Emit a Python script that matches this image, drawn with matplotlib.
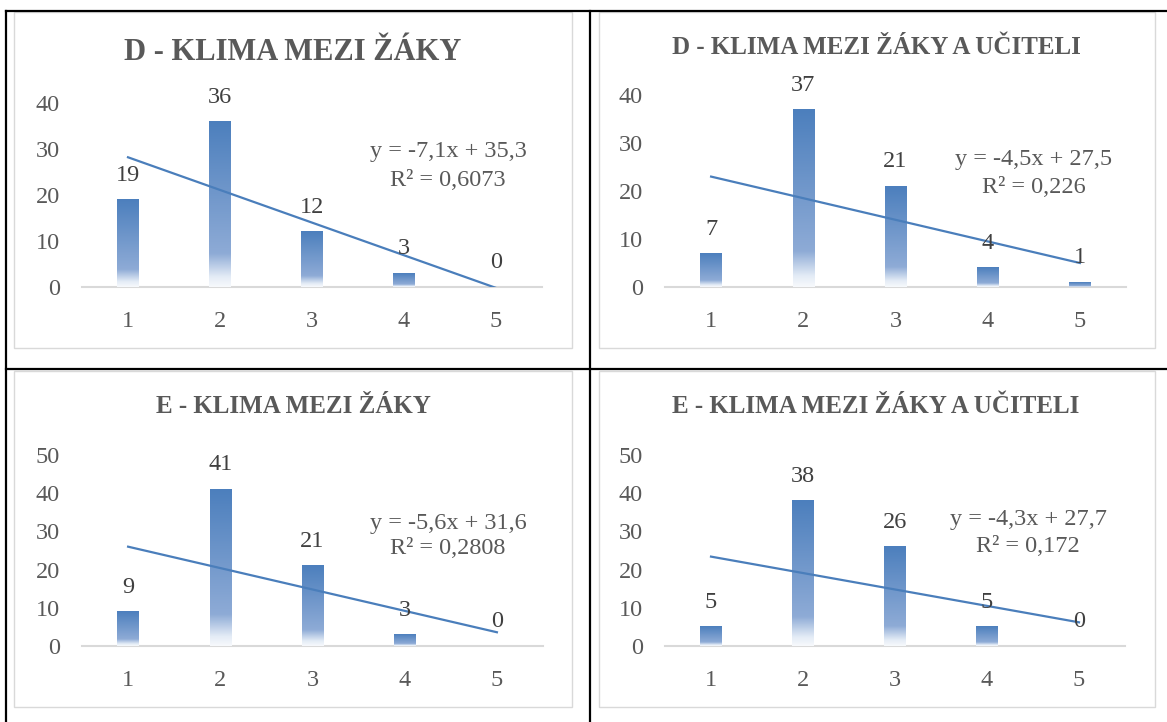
import numpy as np
import matplotlib
matplotlib.use("Agg")
import matplotlib.pyplot as plt
from matplotlib.colors import LinearSegmentedColormap
from matplotlib.lines import Line2D
from matplotlib.patches import Rectangle

plt.rcParams['font.family'] = ['Liberation Serif', 'DejaVu Serif']

W, H = 1167, 722

categories = [1, 2, 3, 4, 5]
d_zaci = [19, 36, 12, 3, 0]
d_ucitele = [7, 37, 21, 4, 1]
e_zaci = [9, 41, 21, 3, 0]
e_ucitele = [5, 38, 26, 5, 0]

titles = ["D - KLIMA MEZI ŽÁKY", "D - KLIMA MEZI ŽÁKY A UČITELI",
          "E - KLIMA MEZI ŽÁKY", "E - KLIMA MEZI ŽÁKY A UČITELI"]
y_max = [40, 40, 50, 50]

BLUE = "#4a7ebb"
bar_cmap = LinearSegmentedColormap.from_list(
    "bar", [(0.0, "#f7f9fc"), (0.06, "#e4ecf6"), (0.2, "#8eabd6"), (1.0, "#4c7fbd")])

FS = 17.5

fig = plt.figure(figsize=(W / 100, H / 100), dpi=100)


def fx(x):
    return x / W


def fy(y):
    return 1 - y / H


# table grid lines (black)
for (x0, y0, x1, y1) in [(6, 11, W, 11), (6, 369, W, 369), (6, 11, 6, H), (590, 11, 590, H)]:
    fig.add_artist(Line2D([fx(x0), fx(x1)], [fy(y0), fy(y1)], color="black", lw=1.6))

# chart frames: (left, top, right, bottom) in pixels
frames = [(14, 12, 572, 348), (599, 12, 1155, 348), (14, 371, 572, 707), (599, 371, 1155, 707)]
# plot areas: (left, top, right, bottom)
plots = [(82, 103, 542, 287), (665, 95, 1126, 287), (82, 455, 543, 646), (665, 455, 1125, 646)]
title_pos = [(293, 52, 22), (876, 48, 18), (293, 407, 18), (876, 407, 18)]
eq_pos = [(448, 152, 180), (1034, 159, 187), (448, 523, 549), (1028, 519, 547)]


def fmt(v, nd):
    s = f"{v:.{nd}f}".rstrip("0").rstrip(".")
    return s.replace(".", ",")


def panel(i, values):
    l, t, r, b = frames[i]
    fig.add_artist(Rectangle((fx(l), fy(b)), fx(r - l), (b - t) / H, fill=False,
                             edgecolor="#d9d9d9", lw=1.0, transform=fig.transFigure))
    pl, pt, pr, pb = plots[i]
    ax = fig.add_axes([fx(pl), fy(pb), fx(pr - pl), (pb - pt) / H])
    ax.set_facecolor("none")

    x = np.array(categories, dtype=float)
    y = np.array(values, dtype=float)
    w = 0.23
    grad = np.linspace(0, 1, 256).reshape(-1, 1)
    for xi, yi in zip(x, y):
        if yi > 0:
            ax.imshow(grad, extent=[xi - w / 2, xi + w / 2, 0, yi], origin="lower",
                      cmap=bar_cmap, aspect="auto", interpolation="bilinear", zorder=2)
        ax.annotate(str(int(yi)), (xi, yi), xytext=(0, 10), textcoords="offset points",
                    ha="center", va="bottom", fontsize=FS, color="#404040", zorder=5)

    slope, inter = np.polyfit(x, y, 1)
    r2 = np.corrcoef(x, y)[0, 1] ** 2
    xs = np.array([1, 5])
    ax.plot(xs, slope * xs + inter, color=BLUE, lw=1.6, zorder=4, clip_on=True)

    ax.set_xlim(0.5, 5.5)
    ax.set_ylim(0, y_max[i])
    ax.set_xticks(categories)
    ax.set_yticks(np.arange(0, y_max[i] + 1, 10))
    ax.tick_params(axis="both", length=0, labelsize=FS, colors="#595959")
    ax.tick_params(axis="y", pad=16)
    ax.tick_params(axis="x", pad=17)
    for s in ["top", "right", "left"]:
        ax.spines[s].set_visible(False)
    ax.spines["bottom"].set_color("#d9d9d9")
    ax.spines["bottom"].set_linewidth(1.5)
    ax.spines["bottom"].set_zorder(1)

    tx, ty, ts = title_pos[i]
    fig.text(fx(tx), fy(ty), titles[i], ha="center", va="center", fontsize=ts,
             fontweight="bold", color="#595959")

    ex, ey1, ey2 = eq_pos[i]
    sign = "+" if inter >= 0 else "-"
    eq = f"y = {fmt(round(slope, 1), 1)}x {sign} {fmt(abs(round(inter, 1)), 1)}"
    fig.text(fx(ex), fy(ey1), eq, ha="center", va="center", fontsize=FS, color="#595959")
    fig.text(fx(ex), fy(ey2), f"R² = {fmt(r2, 4)}", ha="center", va="center",
             fontsize=FS, color="#595959")


for i, vals in enumerate([d_zaci, d_ucitele, e_zaci, e_ucitele]):
    panel(i, vals)

fig.savefig("out.png", dpi=100)
